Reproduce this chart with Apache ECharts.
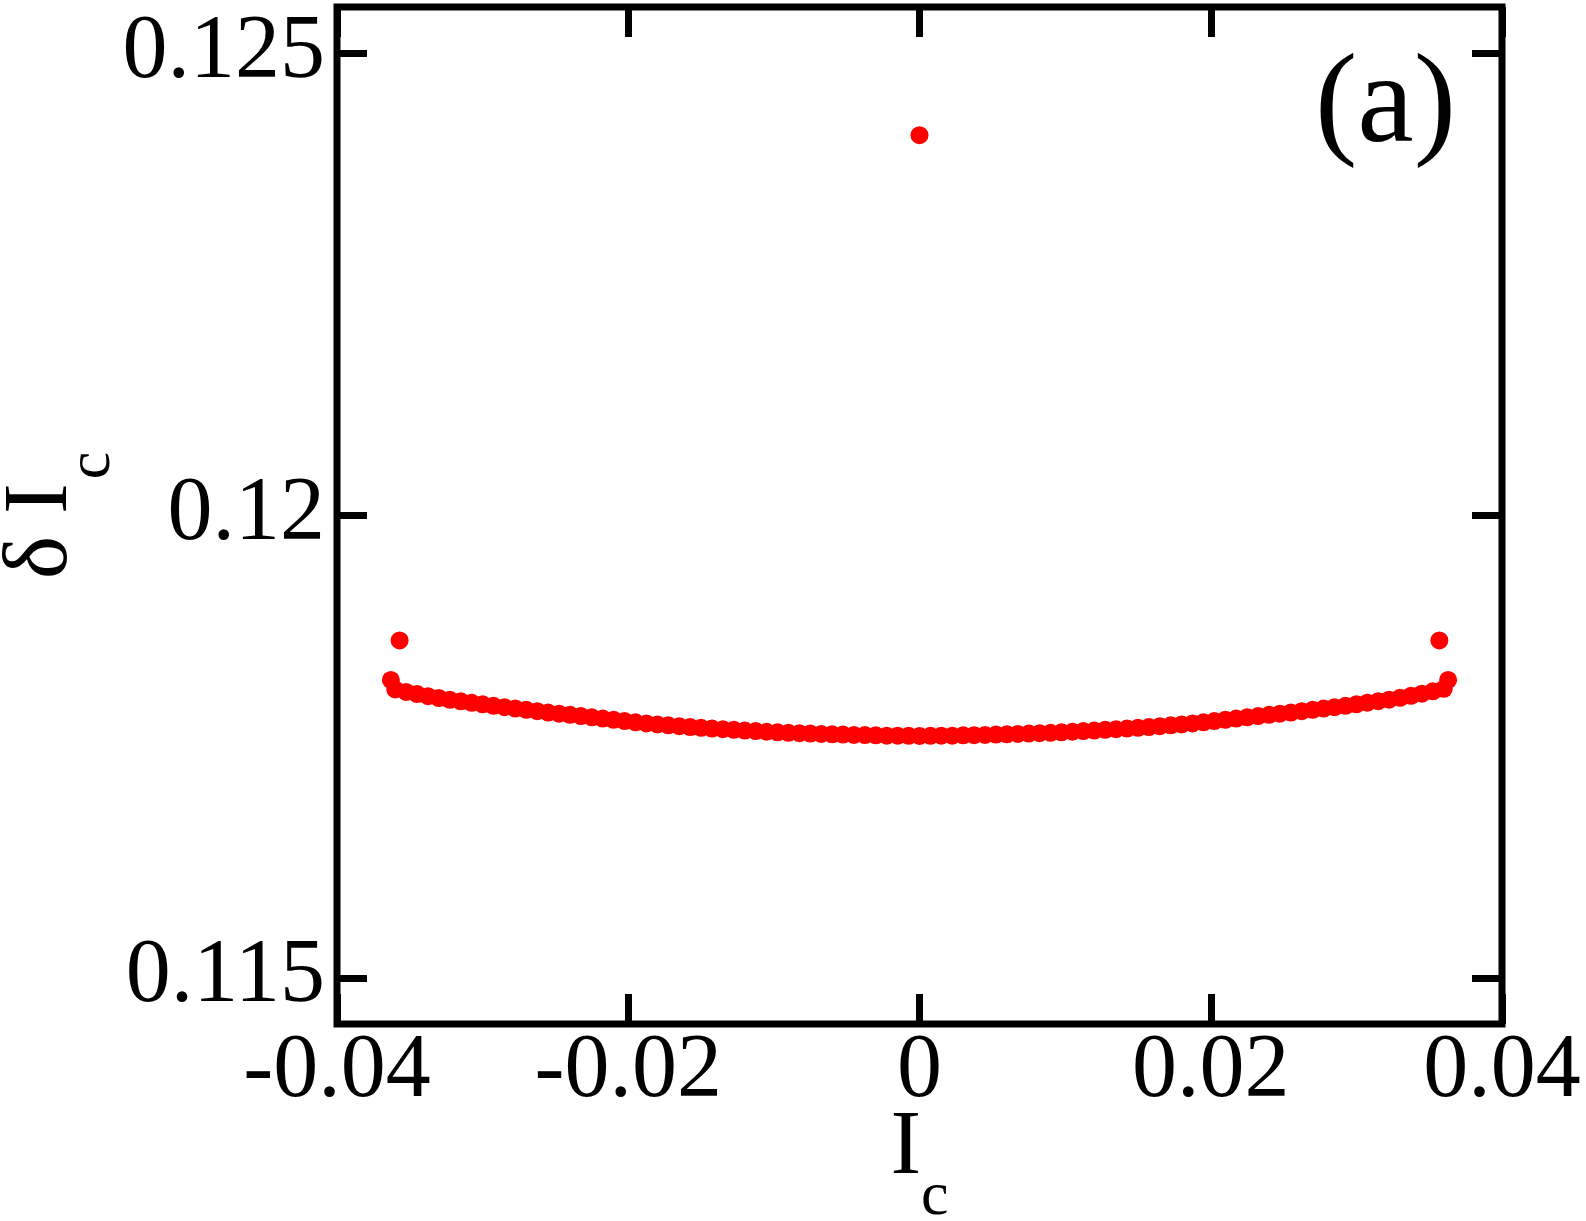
<!DOCTYPE html>
<html>
<head>
<meta charset="utf-8">
<script src="https://cdn.jsdelivr.net/npm/echarts@6/dist/echarts.min.js"></script>
<style>
  html, body { margin: 0; padding: 0; background: #fff; }
  #main { width: 1586px; height: 1221px; }
</style>
</head>
<body>
<div id="main"></div>
<script>
// I_c values of the main branch
var icVals = [
  -0.0363, -0.036, -0.03525, -0.0345, -0.03375, -0.033, -0.03225, -0.0315, -0.03075, -0.03,
  -0.02925, -0.0285, -0.02775, -0.027, -0.02625, -0.0255, -0.02475, -0.024, -0.02325, -0.0225,
  -0.02175, -0.021, -0.02025, -0.0195, -0.01875, -0.018, -0.01725, -0.0165, -0.01575, -0.015,
  -0.01425, -0.0135, -0.01275, -0.012, -0.01125, -0.0105, -0.00975, -0.009, -0.00825, -0.0075,
  -0.00675, -0.006, -0.00525, -0.0045, -0.00375, -0.003, -0.00225, -0.0015, -0.00075, 0,
  0.00075, 0.0015, 0.00225, 0.003, 0.00375, 0.0045, 0.00525, 0.006, 0.00675, 0.0075,
  0.00825, 0.009, 0.00975, 0.0105, 0.01125, 0.012, 0.01275, 0.0135, 0.01425, 0.015,
  0.01575, 0.0165, 0.01725, 0.018, 0.01875, 0.0195, 0.02025, 0.021, 0.02175, 0.0225,
  0.02325, 0.024, 0.02475, 0.0255, 0.02625, 0.027, 0.02775, 0.0285, 0.02925, 0.03,
  0.03075, 0.0315, 0.03225, 0.033, 0.03375, 0.0345, 0.03525, 0.036, 0.0363
];
// delta I_c of the main branch
var dIcVals = [
  0.118222, 0.118119, 0.118092, 0.118069, 0.118046, 0.118025, 0.118006, 0.11799, 0.117974, 0.117958,
  0.117941, 0.117927, 0.117912, 0.117898, 0.117883, 0.117869, 0.117857, 0.117844, 0.117831, 0.117817,
  0.117804, 0.11779, 0.117776, 0.117763, 0.117751, 0.11774, 0.117731, 0.117721, 0.117712, 0.117703,
  0.117696, 0.117688, 0.117682, 0.117674, 0.117668, 0.117661, 0.117655, 0.11765, 0.117645, 0.117641,
  0.117638, 0.117633, 0.11763, 0.117627, 0.117625, 0.117622, 0.117619, 0.117618, 0.117617, 0.117616,
  0.117617, 0.117618, 0.117619, 0.117622, 0.117624, 0.117627, 0.11763, 0.117633, 0.117638, 0.117641,
  0.117645, 0.11765, 0.117655, 0.117661, 0.117668, 0.117674, 0.117682, 0.117688, 0.117696, 0.117703,
  0.117712, 0.117721, 0.117731, 0.11774, 0.117751, 0.117763, 0.117776, 0.11779, 0.117804, 0.117817,
  0.117831, 0.117844, 0.117857, 0.117869, 0.117883, 0.117898, 0.117912, 0.117927, 0.117941, 0.117958,
  0.117975, 0.117992, 0.118008, 0.118028, 0.11805, 0.118073, 0.118098, 0.118125, 0.118222
];
// isolated points
var extraIc = [-0.0357, 0, 0.0357];
var extraDIc = [0.118649, 0.124114, 0.118649];

var xTicks = [-0.04, -0.02, 0, 0.02, 0.04];
var yTicks = [0.115, 0.12, 0.125];

var FONT = 'Liberation Serif';

var chartDom = document.getElementById('main');
var myChart = echarts.init(chartDom, null, { renderer: 'canvas' });
var option;

var pts = icVals.map(function (x, i) { return [x, dIcVals[i]]; });
extraIc.forEach(function (x, i) { pts.push([x, extraDIc[i]]); });

var tickStyle = { color: '#000', width: 7 };

option = {
  backgroundColor: '#fff',
  animation: false,
  grid: {
    left: 337, right: 84, top: 7, bottom: 197,
    containLabel: false, outerBoundsMode: 'none',
    show: true, borderColor: '#000', borderWidth: 7, backgroundColor: 'transparent'
  },
  xAxis: [{
    type: 'value', min: -0.04, max: 0.04, interval: 0.02,
    axisLine: { show: false, onZero: false },
    axisTick: { show: true, inside: true, length: 30, lineStyle: tickStyle },
    axisLabel: {
      show: true, margin: 3, color: '#000', fontFamily: FONT, fontSize: 90,
      showMinLabel: true, showMaxLabel: true, hideOverlap: false,
      customValues: xTicks
    },
    splitLine: { show: false },
    name: '{i|I}{s|c}',
    nameLocation: 'middle',
    nameGap: 79,
    nameMoveOverlap: false,
    nameTextStyle: {
      rich: {
        i: { fontFamily: FONT, fontSize: 92, color: '#000', lineHeight: 100, verticalAlign: 'top' },
        s: { fontFamily: FONT, fontSize: 62, color: '#000', lineHeight: 40, verticalAlign: 'top', padding: [64, 0, 0, 0] }
      }
    }
  }, {
    type: 'value', position: 'top', min: -0.04, max: 0.04, interval: 0.02,
    axisLine: { show: false, onZero: false },
    axisTick: { show: true, inside: true, length: 30, lineStyle: tickStyle },
    axisLabel: { show: false },
    splitLine: { show: false }
  }],
  yAxis: [{
    type: 'value', min: 0.1145, max: 0.1255,
    axisLine: { show: false, onZero: false },
    axisTick: { show: true, inside: true, length: 30, lineStyle: tickStyle, customValues: yTicks },
    axisLabel: {
      show: true, margin: 12, color: '#000', fontFamily: FONT, fontSize: 90,
      customValues: yTicks
    },
    splitLine: { show: false },
    name: '{d|δ}{i|I}{s|c}',
    nameLocation: 'middle',
    nameGap: 241,
    nameMoveOverlap: false,
    nameTextStyle: {
      rich: {
        d: { fontFamily: FONT, fontSize: 92, color: '#000', lineHeight: 100, verticalAlign: 'top', padding: [0, 22, 0, 0] },
        i: { fontFamily: FONT, fontSize: 92, color: '#000', lineHeight: 100, verticalAlign: 'top' },
        s: { fontFamily: FONT, fontSize: 62, color: '#000', lineHeight: 40, verticalAlign: 'top', padding: [66, 0, 0, 4] }
      }
    }
  }, {
    type: 'value', position: 'right', min: 0.1145, max: 0.1255,
    axisLine: { show: false, onZero: false },
    axisTick: { show: true, inside: true, length: 30, lineStyle: tickStyle, customValues: yTicks },
    axisLabel: { show: false },
    splitLine: { show: false }
  }],
  graphic: [{
    type: 'text',
    right: 130, top: 44,
    style: { text: '(a)', font: '127px "Liberation Serif"', fill: '#000' }
  }],
  series: [{
    type: 'scatter',
    xAxisIndex: 0, yAxisIndex: 0,
    data: pts,
    symbol: 'circle',
    symbolSize: 18,
    itemStyle: { color: '#ff0000', opacity: 1 },
    emphasis: { disabled: true }
  }]
};

option && myChart.setOption(option);
</script>
</body>
</html>
